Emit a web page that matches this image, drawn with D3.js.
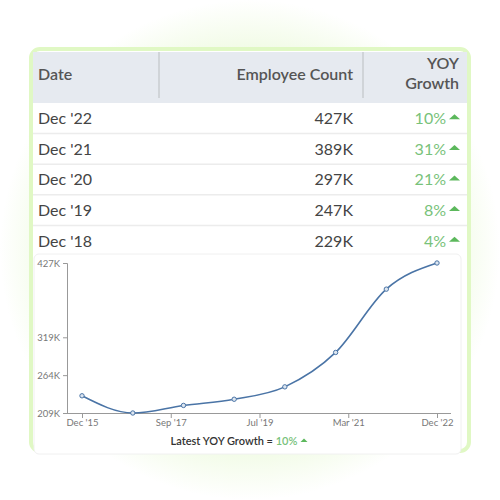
<!DOCTYPE html>
<html>
<head>
  <meta http-equiv="Content-Type" content="text/html;charset=utf-8" />
  <script src="https://cdn.jsdelivr.net/npm/d3@7"></script>
  <style type="text/css">
    body { margin: 0; background: #fff; }
    text { font-family: Lato, "Open Sans", sans-serif; }
    .axis text { fill: #777; font-size: 9.5px; }
    .axis path, .axis line { stroke: #999; }
  </style>
</head>
<body>
<svg id="c" width="500" height="500"></svg>
<script>
  // table rows
  const rowDates = ["Dec '22", "Dec '21", "Dec '20", "Dec '19", "Dec '18"];
  const rowCounts = ["427K", "389K", "297K", "247K", "229K"];
  const rowGrowth = ["10%", "31%", "21%", "8%", "4%"];

  // chart series (thousands), one point per December
  const years = [2015, 2016, 2017, 2018, 2019, 2020, 2021, 2022];
  const employees = [234, 209, 220, 229, 247, 297, 389, 427];

  const yTicks = [209, 264, 319, 427];
  const xTickLabels = ["Dec '15", "Sep '17", "Jul '19", "Mar '21", "Dec '22"];
  const latestGrowth = "10%";

  const green = "#78c27a";
  const svg = d3.select("#c");

  // background glow
  const defs = svg.append("defs");
  const grad = defs.append("radialGradient").attr("id", "glow")
    .attr("cx", "50%").attr("cy", "50%").attr("r", "50%");
  grad.append("stop").attr("offset", "0%").attr("stop-color", "#e0f7c6");
  grad.append("stop").attr("offset", "72%").attr("stop-color", "#ecfadc");
  grad.append("stop").attr("offset", "100%").attr("stop-color", "#ffffff");
  svg.append("rect").attr("width", 500).attr("height", 500).attr("fill", "#fff");
  svg.append("circle").attr("cx", 250).attr("cy", 250).attr("r", 250).attr("fill", "url(#glow)");

  // card
  svg.append("rect").attr("x", 31).attr("y", 49).attr("width", 438).attr("height", 402)
    .attr("rx", 9).attr("fill", "#fff").attr("stroke", "#e0f8c4").attr("stroke-width", 4);

  // header
  svg.append("rect").attr("x", 33).attr("y", 52).attr("width", 434).attr("height", 51).attr("fill", "#e6eaf0");
  [159, 363].forEach(x => svg.append("line").attr("x1", x).attr("x2", x).attr("y1", 52).attr("y2", 98)
    .attr("stroke", "#c9ccd1").attr("stroke-width", 1.5));
  const hdr = svg.append("g").attr("fill", "#555").attr("font-size", 16).attr("font-weight", 600);
  hdr.append("text").attr("x", 38).attr("y", 80).text("Date");
  hdr.append("text").attr("x", 353).attr("y", 80).attr("text-anchor", "end").text("Employee Count");
  hdr.append("text").attr("x", 459).attr("y", 69).attr("text-anchor", "end").text("YOY");
  hdr.append("text").attr("x", 459).attr("y", 89).attr("text-anchor", "end").text("Growth");

  // rows
  const rowY = d3.scaleBand().domain(d3.range(rowDates.length)).range([103, 256]);
  const rows = svg.append("g").selectAll("g").data(rowDates).join("g")
    .attr("transform", (d, i) => `translate(0,${rowY(i)})`);
  rows.filter((d, i) => i > 0).append("line").attr("x1", 33).attr("x2", 467)
    .attr("stroke", "#ececec").attr("stroke-width", 1.5);
  const mid = rowY.bandwidth() / 2 + 6;
  rows.append("text").attr("x", 38).attr("y", mid).attr("font-size", 16).attr("fill", "#444").text(d => d);
  rows.append("text").attr("x", 353).attr("y", mid).attr("text-anchor", "end").attr("font-size", 16)
    .attr("fill", "#444").text((d, i) => rowCounts[i]);
  rows.append("text").attr("x", 446).attr("y", mid).attr("text-anchor", "end").attr("font-size", 16)
    .attr("fill", green).text((d, i) => rowGrowth[i]);
  rows.append("path").attr("d", `M449,${mid - 5}L454.5,${mid - 10}L460,${mid - 5}Z`).attr("fill", "#5cb85c");

  // chart panel
  svg.append("rect").attr("x", 34).attr("y", 254).attr("width", 427).attr("height", 200)
    .attr("rx", 5).attr("fill", "#fff").attr("stroke", "#f0f0f0");

  const x = d3.scaleTime()
    .domain([new Date(2015, 11, 1), new Date(2022, 11, 1)])
    .range([82, 437]);
  const y = d3.scaleLinear().domain([209, 427]).range([413, 263]);

  const xTickVals = d3.range(xTickLabels.length).map(i =>
    new Date(+x.domain()[0] + i * (x.domain()[1] - x.domain()[0]) / (xTickLabels.length - 1)));

  const xAxis = d3.axisBottom(x).tickValues(xTickVals).tickSize(5).tickSizeOuter(0)
    .tickFormat((d, i) => xTickLabels[i]);
  const gx = svg.append("g").attr("class", "axis").attr("transform", "translate(0,413)").call(xAxis);
  gx.select(".domain").attr("d", "M67,0.5H451");
  gx.selectAll("text").attr("dy", "0.55em");

  const yAxis = d3.axisLeft(y).tickValues(yTicks).tickSize(4).tickSizeOuter(4).tickFormat(d => d + "K");
  svg.append("g").attr("class", "axis").attr("transform", "translate(67,0)").call(yAxis);

  const line = d3.line()
    .x((d, i) => x(new Date(years[i], 11, 1)))
    .y(d => y(d))
    .curve(d3.curveMonotoneX);
  svg.append("path").datum(employees).attr("d", line)
    .attr("fill", "none").attr("stroke", "#4a74a6").attr("stroke-width", 1.6);
  svg.append("g").selectAll("circle").data(employees).join("circle")
    .attr("cx", (d, i) => x(new Date(years[i], 11, 1))).attr("cy", d => y(d)).attr("r", 2.2)
    .attr("fill", "#dde6f0").attr("stroke", "#4a74a6").attr("stroke-width", 1);

  // caption
  const cap = svg.append("text").attr("x", 234).attr("y", 445).attr("text-anchor", "middle")
    .attr("font-size", 11).attr("font-weight", 600).attr("fill", "#333");
  cap.append("tspan").text("Latest YOY Growth = ");
  cap.append("tspan").attr("fill", green).text(latestGrowth);
  const capBox = cap.node().getBBox();
  const tx = capBox.x + capBox.width + 3;
  svg.append("path").attr("d", `M${tx},${442}L${tx + 3.5},${438.5}L${tx + 7},${442}Z`).attr("fill", "#5cb85c");
</script>
</body>
</html>
